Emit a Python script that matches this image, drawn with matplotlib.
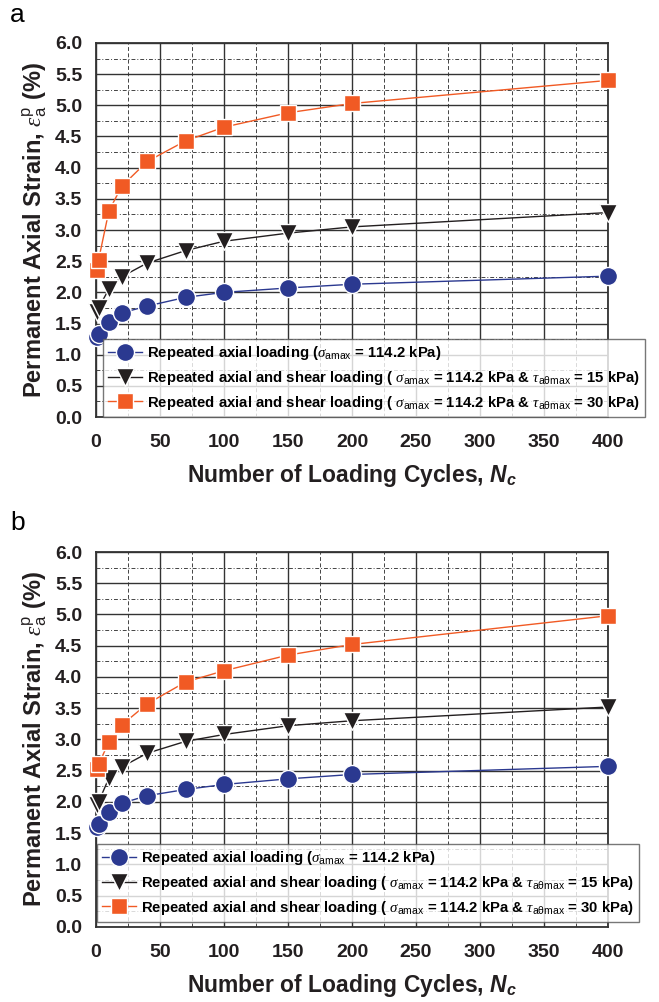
import matplotlib
matplotlib.use("Agg")
import matplotlib.pyplot as plt
from matplotlib.ticker import MultipleLocator

plt.rcParams['font.family'] = ['Liberation Sans', 'DejaVu Sans']
plt.rcParams['mathtext.fontset'] = 'custom'
plt.rcParams['mathtext.rm'] = 'Liberation Sans'
plt.rcParams['mathtext.it'] = 'Liberation Serif:italic'
plt.rcParams['mathtext.bf'] = 'Liberation Sans:bold'
plt.rcParams['mathtext.bfit'] = 'Liberation Sans:italic:bold'

# datos
cycles = [1, 2, 10, 20, 40, 70, 100, 150, 200, 400]

# panel a
a_axial = [1.28, 1.33, 1.53, 1.67, 1.78, 1.92, 2.0, 2.07, 2.13, 2.26]
a_shear15 = [1.68, 1.75, 2.05, 2.25, 2.47, 2.67, 2.82, 2.95, 3.05, 3.28]
a_shear30 = [2.36, 2.52, 3.3, 3.7, 4.1, 4.43, 4.65, 4.88, 5.03, 5.4]

# panel b
b_axial = [1.6, 1.64, 1.84, 1.98, 2.1, 2.2, 2.28, 2.37, 2.44, 2.57]
b_shear15 = [1.95, 2.0, 2.38, 2.56, 2.78, 2.97, 3.08, 3.22, 3.3, 3.52]
b_shear30 = [2.52, 2.6, 2.96, 3.23, 3.57, 3.92, 4.1, 4.35, 4.52, 4.98]

labels = [
    r"Repeated axial loading ($\sigma_{\mathrm{amax}}$ = 114.2 kPa)",
    r"Repeated axial and shear loading ( $\sigma_{\mathrm{amax}}$ = 114.2 kPa & $\tau_{\mathrm{a\theta max}}$ = 15 kPa)",
    r"Repeated axial and shear loading ( $\sigma_{\mathrm{amax}}$ = 114.2 kPa & $\tau_{\mathrm{a\theta max}}$ = 30 kPa)",
]
colores = ['#2B3990', '#231F20', '#F15A24']
marcas = ['o', 'v', 's']
tam = [13, 13, 12]

fig = plt.figure(figsize=(6.59, 10.02), dpi=100)
ax_a = fig.add_axes([0.1457, 0.5838, 0.777, 0.3733])
ax_b = fig.add_axes([0.1457, 0.0749, 0.777, 0.3742])

paneles = [
    (ax_a, [a_axial, a_shear15, a_shear30], 'a', 0.997, (0.156, 0.584)),
    (ax_b, [b_axial, b_shear15, b_shear30], 'b', 0.49, (0.147, 0.080)),
]

for ax, series, letra, yletra, legpos in paneles:
    lineas = []
    for vals, c, m, ms, lab in zip(series, colores, marcas, tam, labels):
        ln, = ax.plot(cycles, vals, color=c, marker=m, markersize=ms,
                      markeredgecolor='white', markeredgewidth=1.0,
                      linewidth=1.0, label=lab, clip_on=False, zorder=5)
        lineas.append(ln)
    ax.set_xlim(0, 400)
    ax.set_ylim(0, 6)
    ax.xaxis.set_major_locator(MultipleLocator(50))
    ax.xaxis.set_minor_locator(MultipleLocator(25))
    ax.yaxis.set_major_locator(MultipleLocator(0.5))
    ax.yaxis.set_minor_locator(MultipleLocator(0.25))
    ax.grid(which='major', color='#333333', linestyle='-', linewidth=1.0)
    ax.grid(which='minor', axis='x', color='#444444', linestyle=(0, (4, 2.5)), linewidth=0.7)
    ax.grid(which='minor', axis='y', color='#444444', linestyle=(0, (4, 2, 1, 2)), linewidth=0.7)
    ax.set_axisbelow(True)
    ax.tick_params(axis='x', which='both', length=0, pad=12)
    ax.tick_params(axis='y', which='both', length=0, pad=10)
    for t in ax.get_xticklabels() + ax.get_yticklabels():
        t.set_fontweight('bold')
        t.set_fontsize(14)
        t.set_color('#231F20')
    ax.yaxis.set_major_formatter(plt.FormatStrFormatter('%.1f'))
    for s in ax.spines.values():
        s.set_color('#333333')
        s.set_linewidth(1.3)
    ax.set_xlabel(r"Number of Loading Cycles, $\mathbfit{N}_{\mathbfit{c}}$",
                  fontsize=16.5, fontweight='bold', color='#231F20', labelpad=8)
    ax.set_ylabel(r"Permanent Axial Strain, $\varepsilon_{\mathrm{a}}^{\mathrm{p}}$ (%)",
                  fontsize=17, fontweight='bold', color='#231F20', labelpad=4)
    fig.text(0.015, yletra, letra, fontsize=19, va='top', ha='left')
    leg = fig.legend(handles=lineas, loc='lower left', bbox_to_anchor=legpos,
                     prop={'weight': 'bold', 'size': 10.7},
                     frameon=True, fancybox=False, borderpad=0.35,
                     labelspacing=0.45, handlelength=2.3, handletextpad=0.3,
                     borderaxespad=0)
    leg.get_frame().set_edgecolor('#555555')
    leg.get_frame().set_linewidth(1.0)
    leg.set_zorder(10)

fig.savefig('out.png', dpi=100)
